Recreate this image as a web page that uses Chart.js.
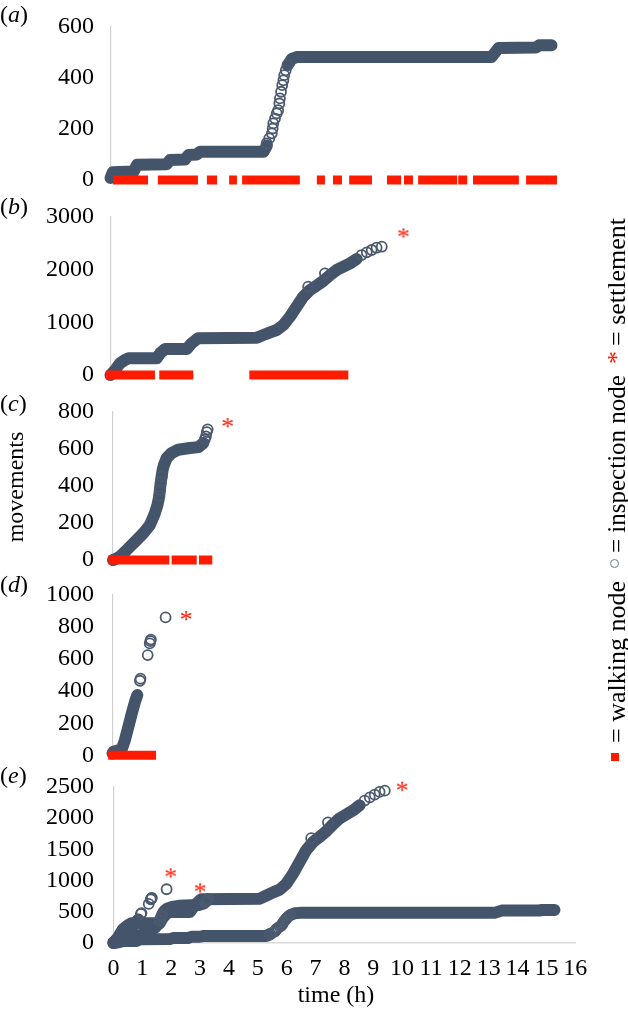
<!DOCTYPE html>
<html><head><meta charset="utf-8">
<script src="https://cdn.jsdelivr.net/npm/chart.js@4.4.1/dist/chart.umd.min.js"></script>
<style>
html,body{margin:0;padding:0;background:#fff;}
body{width:628px;height:1014px;position:relative;overflow:hidden;font-family:"Liberation Serif","Times New Roman",serif;color:#000;}
canvas{position:absolute;left:0;}
.lbl{position:absolute;font-size:24px;line-height:24px;white-space:nowrap;}
#legend{position:absolute;width:560px;height:30px;font-size:26px;line-height:30px;white-space:nowrap;transform:rotate(-90deg);}
#legend span{position:absolute;top:0;}
</style></head><body>
<canvas id="ca" width="628" height="195" style="top:0px"></canvas>
<canvas id="cb" width="628" height="195" style="top:195px"></canvas>
<canvas id="cc" width="628" height="185" style="top:390px"></canvas>
<canvas id="cd" width="628" height="195" style="top:575px"></canvas>
<canvas id="ce" width="628" height="249" style="top:765px"></canvas>

<div class="lbl" style="left:0;top:1.5px">(<i>a</i>)</div>
<div class="lbl" style="left:0;top:193.5px">(<i>b</i>)</div>
<div class="lbl" style="left:0;top:390.5px">(<i>c</i>)</div>
<div class="lbl" style="left:0;top:571.5px">(<i>d</i>)</div>
<div class="lbl" style="left:0;top:762.5px">(<i>e</i>)</div>
<div class="lbl" style="left:-84.6px;top:472.5px;width:200px;height:28px;line-height:28px;text-align:center;transform:rotate(-90deg)">movements</div>
<div class="lbl" style="left:236px;top:981.5px;width:200px;text-align:center">time (h)</div>
<div id="legend" style="left:337.2px;top:470px">
  <span style="left:4px;top:8.8px;width:8px;height:8px;background:#ff1a00"></span>
  <span style="left:22px">= walking node</span>
  <span style="left:197px;top:7.8px;width:7px;height:7px;border:1.5px solid #6f7b8a;border-radius:50%"></span>
  <span style="left:212px;font-size:25px">= inspection node</span>
  <span style="left:401px;color:#ff1a00">*</span>
  <span style="left:419px">= settlement</span>
</div>

<script>
// ---------------- data (time in h, movements) ----------------
const xTicks = [0,1,2,3,4,5,6,7,8,9,10,11,12,13,14,15,16];
const yTicksA = [0,200,400,600];
const yTicksB = [0,1000,2000,3000];
const yTicksC = [0,200,400,600,800];
const yTicksD = [0,200,400,600,800,1000];
const yTicksE = [0,500,1000,1500,2000,2500];
const panelNames = ['a','b','c','d','e'];

// inspection-node trajectories (dense runs) and isolated inspection nodes
const aBand = [[0,8],[0.08,30],[0.8,33],[0.92,60],[1.95,62],[2.06,78],[2.58,80],[2.7,98],[2.99,100],[3.1,111],[5.3,111],[5.42,135],[5.42,null],[6.15,452],[6.28,475],[6.45,482],[13.2,482],[13.45,518],[14.75,520],[14.85,528],[15.28,528]];
const aRings = [[5.41,144],[5.5,163],[5.59,183],[5.62,202],[5.64,222],[5.7,241],[5.76,261],[5.81,274],[5.85,300],[5.87,320],[5.91,346],[5.95,372],[5.99,391],[6.02,411],[6.07,430],[6.13,450]];
const aWalk = [[0.09,1.3],[1.64,3.03],[3.34,3.69],[4.11,4.38],[4.56,6.56],[7.15,7.43],[7.71,8.02],[8.27,9.06],[9.58,10.07],[10.17,10.48],[10.66,12.01],[12.05,12.36],[12.56,14.15],[14.4,15.47]];

const bBand = [[0,0],[0.16,95],[0.33,222],[0.5,285],[0.62,316],[1.6,316],[1.72,411],[1.89,494],[2.64,494],[2.81,601],[3.04,700],[5.07,709],[5.3,759],[5.53,810],[5.76,854],[5.99,949],[6.22,1108],[6.45,1297],[6.68,1487],[6.91,1614],[7.14,1696],[7.37,1785],[7.61,1899],[7.84,1994],[8.07,2057],[8.3,2120],[8.53,2202]];
const bRings = [[6.85,1677],[7.43,1930],[8.7,2278],[8.88,2329],[9.05,2373],[9.22,2417],[9.4,2436]];
const bWalk = [[-0.16,1.54],[1.69,2.87],[4.81,8.24]];
const bSettle = [[10.15,2690]];

const cBand = [[0,0],[0.07,4],[0.24,18],[0.42,45],[0.59,72],[0.82,108],[1.05,144],[1.28,189],[1.43,243],[1.54,297],[1.6,342],[1.65,414],[1.72,486],[1.77,514],[1.86,550],[2.03,577],[2.26,595],[2.67,604],[2.96,609],[3.13,631]];
const cRings = [[1.6,345],[1.63,378],[1.66,420],[1.69,450],[3.18,650],[3.22,667],[3.25,690],[3.28,705]];
const cWalk = [[-0.16,1.95],[2.03,2.9],[2.98,3.44]];
const cSettle = [[3.97,739]];

const dBand = [[0,12],[0.03,22],[0.32,37],[0.43,95],[0.55,178],[0.67,262],[0.78,334],[0.86,376]];
const dRings = [[0.95,465],[0.97,478],[1.22,625],[1.29,698],[1.31,712],[1.33,722],[1.84,860]];
const dWalk = [[-0.15,1.51]];
const dSettle = [[2.55,869]];

const eSettle = [[1.98,1115],[3.0,875],[10.0,2500]];

// ---------------- drawing ----------------
const SLATE = '#44546a', RING = '#4b5a6f', RED = '#ff1a00';
const FONT = '"Liberation Serif", "Times New Roman", serif';
const PXH = 28.86; // px per hour (all panels share the time scale)

const xy = arr => arr.map(p => ({x:p[0], y:p[1]}));
function walkXY(segs){ const o=[]; segs.forEach(s=>{o.push({x:s[0],y:0},{x:s[1],y:0},{x:s[1],y:null});}); return o; }

function starImage(){
  const c = document.createElement('canvas'); c.width = 22; c.height = 22;
  const g = c.getContext('2d');
  g.font = '26px ' + FONT; g.fillStyle = RED; g.textAlign = 'left'; g.textBaseline = 'alphabetic';
  const m = g.measureText('*');
  const w = m.actualBoundingBoxRight + m.actualBoundingBoxLeft;
  const x = 11 - w/2 + m.actualBoundingBoxLeft;
  const y = 11 + (m.actualBoundingBoxAscent - m.actualBoundingBoxDescent)/2;
  g.fillText('*', x, y);
  return c;
}
const STAR = starImage();

const bandDS = arr => ({data:xy(arr), showLine:true, borderColor:SLATE, borderWidth:12, borderCapStyle:'round', borderJoinStyle:'round', pointRadius:0, spanGaps:false, clip:false, order:3});
const ringDS = arr => ({data:xy(arr), showLine:false, pointRadius:5, pointBorderWidth:1.8, pointBorderColor:RING, pointBackgroundColor:'rgba(0,0,0,0)', clip:false, order:2});
const walkDS = segs => ({data:walkXY(segs), showLine:true, borderColor:RED, borderWidth:9, borderCapStyle:'butt', pointRadius:0, spanGaps:false, clip:false, order:1});
const settleDS = arr => ({data:xy(arr), showLine:false, pointStyle:STAR, pointRadius:8, clip:false, order:0});

const panels = [
  {id:'ca', top:0,   h:195, cTop:27,    cBot:180,   x0:110.5, ticks:yTicksA, ds:[bandDS(aBand), ringDS(aRings), walkDS(aWalk)]},
  {id:'cb', top:195, h:195, cTop:217,   cBot:375,   x0:110.5, ticks:yTicksB, ds:[bandDS(bBand), ringDS(bRings), walkDS(bWalk), settleDS(bSettle)]},
  {id:'cc', top:390, h:185, cTop:411.7, cBot:560,   x0:113,   ticks:yTicksC, ds:[bandDS(cBand), ringDS(cRings), walkDS(cWalk), settleDS(cSettle)]},
  {id:'cd', top:575, h:195, cTop:595,   cBot:755.3, x0:112.5, ticks:yTicksD, ds:[bandDS(dBand), ringDS(dRings), walkDS(dWalk), settleDS(dSettle)]},
  {id:'ce', top:765, h:249, cTop:786.7, cBot:943,   x0:113.5, ticks:yTicksE, xAxis:true,
     ds:[bandDS(aBand), bandDS(bBand), bandDS(cBand), bandDS(dBand), ringDS(aRings), ringDS(bRings), ringDS(cRings), ringDS(dRings), settleDS(eSettle)]}
];

panels.forEach(p => {
  const t = p.ticks;
  new Chart(document.getElementById(p.id), {
    type:'scatter',
    data:{datasets:p.ds},
    options:{
      responsive:false, animation:false, events:[],
      layout:{padding:{left:0, right:628 - p.x0 - 16*PXH, top:p.cTop - p.top, bottom:p.xAxis ? 0 : (p.top + p.h - p.cBot)}},
      plugins:{legend:{display:false}, tooltip:{enabled:false}},
      scales:{
        x:{type:'linear', min:xTicks[0], max:xTicks[xTicks.length-1], display:!!p.xAxis,
           ticks:{stepSize:1, autoSkip:false, maxRotation:0, minRotation:0, padding:11.6, color:'#000', font:{family:FONT, size:24}, callback:v => String(v)},
           grid:{display:false, drawTicks:false},
           border:{display:true, color:'#d9d9d9', width:1.5},
           afterFit:s => { if (p.xAxis) { s.height = p.top + p.h - p.cBot; } s.paddingLeft = 0; s.paddingRight = 0; }},
        y:{type:'linear', min:t[0], max:t[t.length-1],
           ticks:{stepSize:t[1]-t[0], autoSkip:false, padding:p.x0 - 94, color:'#000', font:{family:FONT, size:24}, callback:v => String(v)},
           grid:{display:false, drawTicks:false},
           border:{display:true, color:'#d0d0d0', width:1.2},
           afterFit:s => { s.width = p.x0; s.paddingTop = 0; s.paddingBottom = 0; }}
      }
    }
  });
});
</script>
</body></html>
